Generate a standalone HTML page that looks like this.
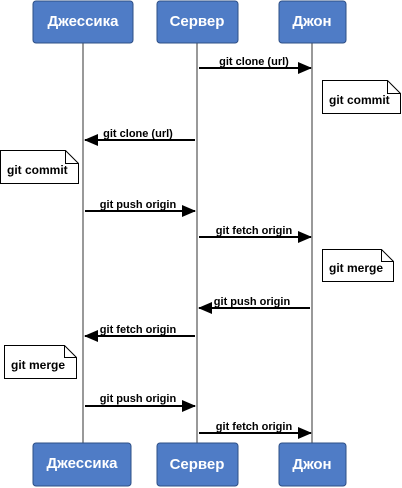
<!DOCTYPE html>
<html><head><meta charset="utf-8"><style>html,body{margin:0;padding:0;background:#fff}svg{display:block}</style></head>
<body>
<svg width="402" height="488" viewBox="0 0 402 488" xmlns="http://www.w3.org/2000/svg" font-family="Liberation Sans, DejaVu Sans, sans-serif" font-weight="bold">
<defs><marker id="a" markerWidth="14" markerHeight="12" refX="13" refY="6" orient="auto" markerUnits="userSpaceOnUse"><path d="M0,0 L14,6 L0,12 Z" fill="#000"/></marker></defs>
<g stroke="#999" stroke-width="2">
<line x1="83" y1="43" x2="83" y2="443"/>
<line x1="197" y1="43" x2="197" y2="443"/>
<line x1="312" y1="43" x2="312" y2="443"/>
</g>
<g fill="#4f7cc6" stroke="#2d4f86" stroke-width="1">
<rect x="33" y="1" width="100" height="42" rx="3"/>
<rect x="157" y="1" width="81" height="42" rx="3"/>
<rect x="279" y="1" width="67" height="42" rx="3"/>
<rect x="33" y="443" width="98" height="43" rx="3"/>
<rect x="157" y="443" width="81" height="43" rx="3"/>
<rect x="279" y="443" width="67" height="43" rx="3"/>
</g>
<g fill="#fff" font-size="15" text-anchor="middle">
<text x="83" y="26">Джессика</text>
<text x="197" y="26">Сервер</text>
<text x="312" y="26">Джон</text>
<text x="82" y="468">Джессика</text>
<text x="197" y="469">Сервер</text>
<text x="312" y="469">Джон</text>
</g>
<g stroke="#000" stroke-width="2" marker-end="url(#a)">
<line x1="199" y1="68" x2="311" y2="68"/>
<line x1="195" y1="140" x2="85" y2="140"/>
<line x1="85" y1="211" x2="195" y2="211"/>
<line x1="199" y1="237" x2="311" y2="237"/>
<line x1="310" y1="308" x2="199" y2="308"/>
<line x1="195" y1="336" x2="85" y2="336"/>
<line x1="85" y1="406" x2="195" y2="406"/>
<line x1="199" y1="433" x2="311" y2="433"/>
</g>
<g font-size="11" text-anchor="middle" fill="#000">
<text x="254" y="65">git clone (url)</text>
<text x="138" y="137">git clone (url)</text>
<text x="138" y="208">git push origin</text>
<text x="254" y="234">git fetch origin</text>
<text x="252" y="305">git push origin</text>
<text x="138" y="333">git fetch origin</text>
<text x="138" y="402">git push origin</text>
<text x="254" y="430">git fetch origin</text>
</g>
<g fill="#fff" stroke="#000" stroke-width="1">
<path d="M322.5,80.5 H387.5 L400.5,93.5 V113.5 H322.5 Z M387.5,80.5 V93.5 H400.5"/>
<path d="M0.5,150.5 H65.5 L78.5,163.5 V183.5 H0.5 Z M65.5,150.5 V163.5 H78.5"/>
<path d="M322.5,249.5 H381.5 L393.5,261.5 V281.5 H322.5 Z M381.5,249.5 V261.5 H393.5"/>
<path d="M4.5,345.5 H64.5 L76.5,357.5 V378.5 H4.5 Z M64.5,345.5 V357.5 H76.5"/>
</g>
<g font-size="12" fill="#000">
<text x="329" y="104">git commit</text>
<text x="7" y="174">git commit</text>
<text x="329" y="272">git merge</text>
<text x="11" y="369">git merge</text>
</g>
</svg>
</body></html>
